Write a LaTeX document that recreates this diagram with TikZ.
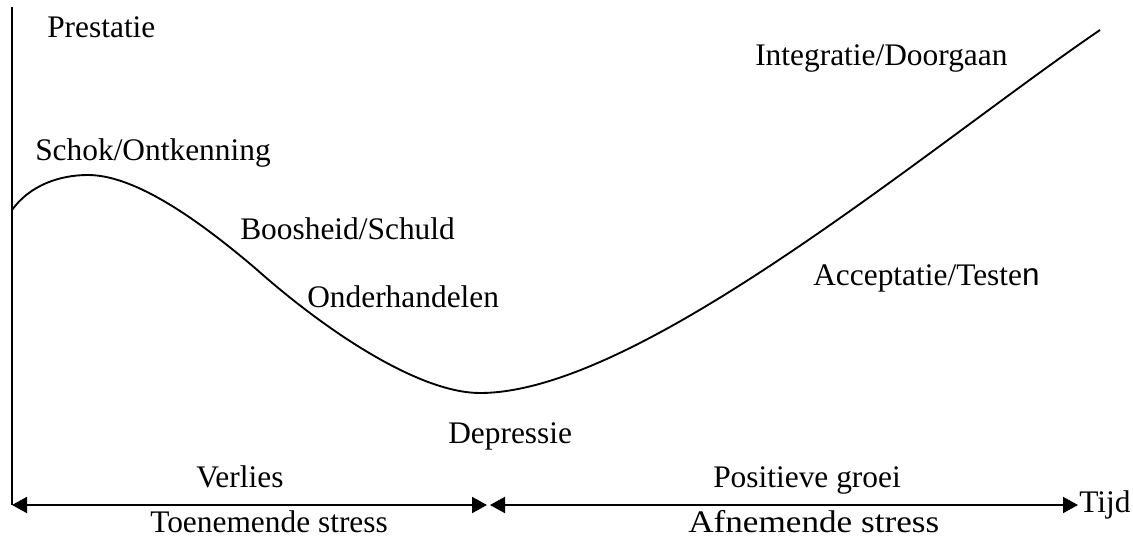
\documentclass[tikz,border=0pt]{standalone}
\usepackage{fontspec}
\setmainfont{Liberation Serif}
\newfontfamily\sansn{Liberation Sans}
\usetikzlibrary{arrows.meta}
\tikzset{
  lbl/.style={anchor=base west, inner sep=0pt, font=\fontsize{23.55}{28}\selectfont},
  axisline/.style={line width=1.5pt},
  curveline/.style={line width=1.4pt, line join=round},
  dblarrow/.style={line width=1.5pt, {Triangle[length=11.25pt,width=12pt]}-{Triangle[length=11.25pt,width=12pt]}}
}
\begin{document}
\begin{tikzpicture}[x=0.75pt,y=-0.75pt]
\useasboundingbox (0,0) rectangle (1133,539);
% axes
\coordinate (top) at (12,7);
\coordinate (o) at (12,505);
\coordinate (m1) at (487,505);
\coordinate (m2) at (490,505);
\coordinate (e) at (1078,505);
\draw[axisline] (top) -- (o);
\draw[dblarrow] (o) -- (m1);
\draw[dblarrow] (m2) -- (e);
% curve
\coordinate (c0) at (12,210);
\coordinate (peak) at (88,175);
\coordinate (infl) at (255,268);
\coordinate (low) at (480,393);
\coordinate (cend) at (1100,30);
\draw[curveline] (c0) .. controls (30,185) and (60,175) .. (peak)
  .. controls (140,175) and (210,230) .. (infl)
  .. controls (328,333) and (420,393) .. (low)
  .. controls (640,393) and (930,146) .. (cend);
% labels
\node[lbl] (prest) at (47,37) {Prestatie};
\node[lbl] (schok) at (35,160) {Schok/Ontkenning};
\node[lbl] (boos) at (240,239) {Boosheid/Schuld};
\node[lbl] (onder) at (307,307) {Onderhandelen};
\node[lbl] (depr) at (448,443) {Depressie};
\node[lbl] (integ) at (755,65) {Integratie/Doorgaan};
\node[lbl] (accept) at (813,285) {Acceptatie/Teste{\sansn n}};
\node[lbl] (verlies) at (196,487) {Verlies};
\node[lbl] (toen) at (150,532) {Toenemende stress};
\node[lbl] (posit) at (713,487) {Positieve groei};
\node[lbl] (afn) at (688,532) {\scalebox{1.12}[1]{Afnemende stress}};
\node[lbl] (tijd) at (1079,512) {Tijd};
\end{tikzpicture}
\end{document}
